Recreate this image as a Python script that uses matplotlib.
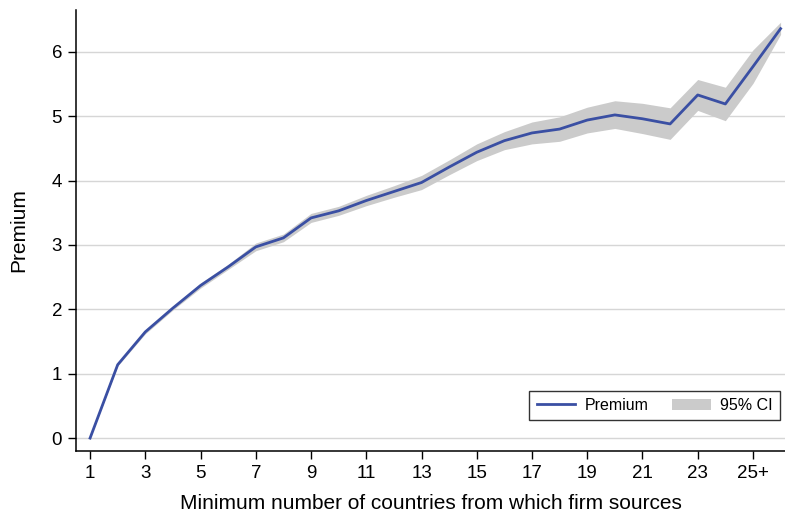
import matplotlib.pyplot as plt
from matplotlib.patches import Patch
from matplotlib.lines import Line2D

plt.rcParams["font.family"] = ["Liberation Sans", "DejaVu Sans"]

# minimum number of source countries (26 = "25+" bin end)
countries = list(range(1, 27))
premium = [0.00, 1.14, 1.65, 2.02, 2.37, 2.66, 2.97, 3.11, 3.42, 3.53,
           3.69, 3.83, 3.97, 4.21, 4.44, 4.62, 4.74, 4.80, 4.94, 5.02,
           4.96, 4.88, 5.33, 5.19, 5.77, 6.36]
ci_low = [0.00, 1.12, 1.62, 1.99, 2.33, 2.62, 2.91, 3.05, 3.35, 3.46,
          3.61, 3.74, 3.86, 4.09, 4.31, 4.48, 4.57, 4.61, 4.74, 4.81,
          4.73, 4.64, 5.09, 4.93, 5.51, 6.27]
ci_high = [0.00, 1.16, 1.68, 2.05, 2.41, 2.70, 3.03, 3.17, 3.49, 3.60,
           3.77, 3.92, 4.08, 4.32, 4.57, 4.76, 4.91, 4.99, 5.14, 5.24,
           5.20, 5.13, 5.57, 5.45, 6.03, 6.46]

xticks = [1, 3, 5, 7, 9, 11, 13, 15, 17, 19, 21, 23, 25]
xtick_labels = ["1", "3", "5", "7", "9", "11", "13", "15", "17", "19", "21", "23", "25+"]

fig = plt.figure(figsize=(7.85, 5.14), dpi=100)
ax = fig.add_axes([0.0968, 0.1226, 0.9032, 0.858])

ax.fill_between(countries, ci_low, ci_high, color="#cbcbcb", linewidth=0, zorder=2)
ax.plot(countries, premium, color="#3a4fa3", linewidth=2, zorder=3)

ax.set_xlim(0.49, 26.16)
ax.set_ylim(-0.2, 6.65)
ax.set_yticks(range(0, 7))
ax.set_xticks(xticks)
ax.set_xticklabels(xtick_labels)
ax.yaxis.grid(True, color="#d6d6d6", linewidth=1)
ax.set_axisbelow(True)

for s in ["top", "right"]:
    ax.spines[s].set_visible(False)
for s in ["left", "bottom"]:
    ax.spines[s].set_linewidth(1.1)
ax.tick_params(direction="out", length=6, width=1, labelsize=13.5, pad=4)

ax.set_ylabel("Premium", fontsize=15, labelpad=17)
ax.set_xlabel("Minimum number of countries from which firm sources", fontsize=15, labelpad=9)

handles = [Line2D([0], [0], color="#3a4fa3", linewidth=2),
           Patch(facecolor="#cbcbcb", edgecolor="none")]
leg = ax.legend(handles, ["Premium", "95% CI"], ncol=2, loc="lower right",
                bbox_to_anchor=(0.993, 0.07), borderaxespad=0, fontsize=11.5,
                frameon=True, fancybox=False, edgecolor="black", borderpad=0.45,
                columnspacing=1.5, handlelength=2.4, handletextpad=0.6)
leg.get_frame().set_linewidth(1)

fig.savefig("out.png", dpi=100)
